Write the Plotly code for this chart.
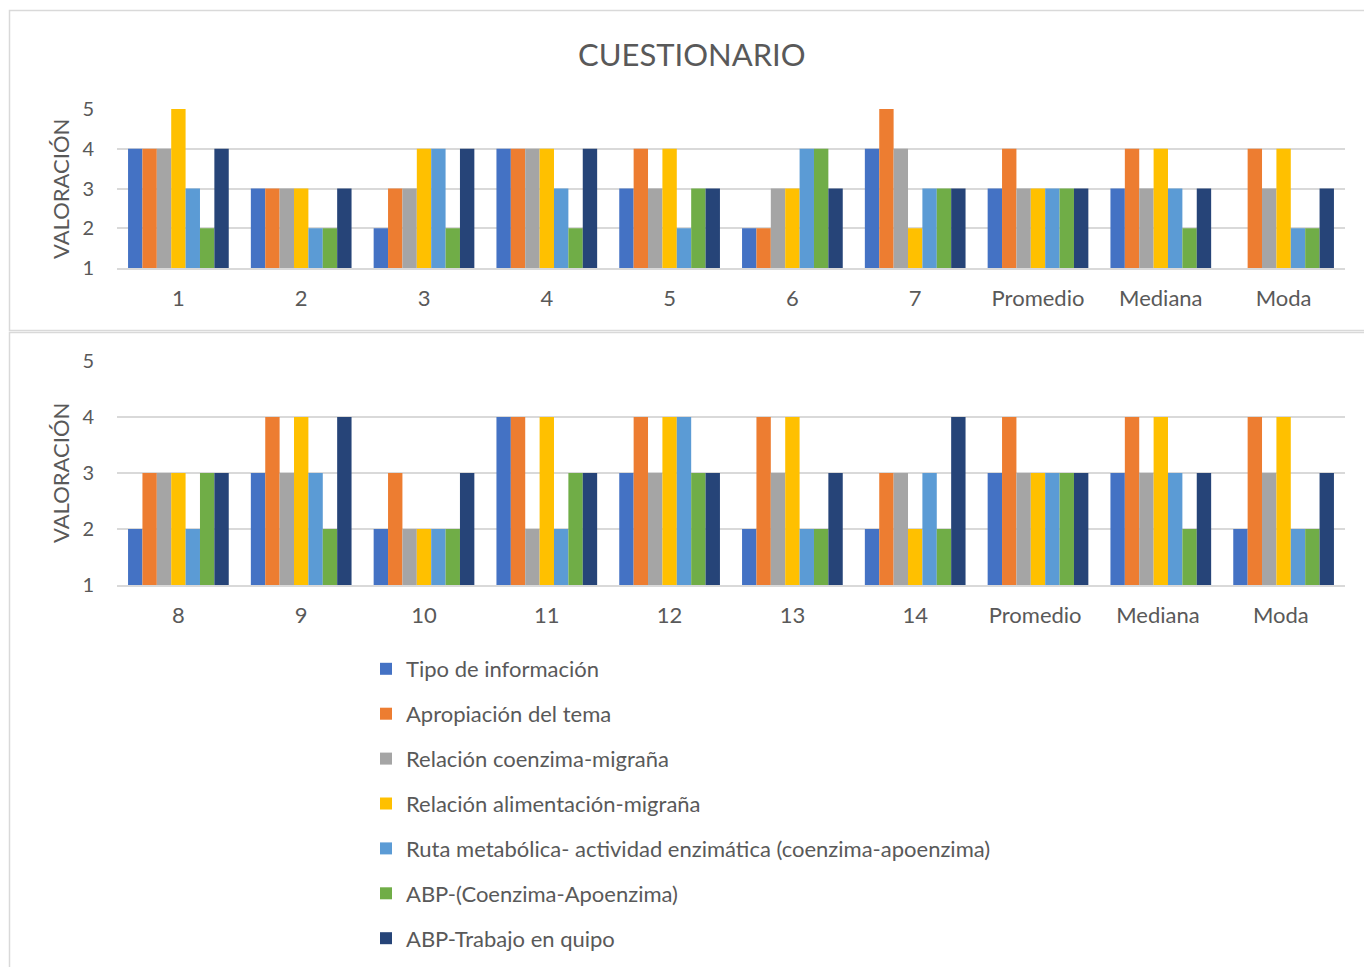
import plotly.graph_objects as go

W, H = 1364, 967

series_names = [
    "Tipo de información",
    "Apropiación del tema",
    "Relación coenzima-migraña",
    "Relación alimentación-migraña",
    "Ruta metabólica- actividad enzimática (coenzima-apoenzima)",
    "ABP-(Coenzima-Apoenzima)",
    "ABP-Trabajo en quipo",
]
colors = ["#4472C4", "#ED7D31", "#A5A5A5", "#FFC000", "#5B9BD5", "#70AD47", "#264478"]

cats_top = ["1", "2", "3", "4", "5", "6", "7", "Promedio", "Mediana", "Moda"]
cats_bot = ["8", "9", "10", "11", "12", "13", "14", "Promedio ", "Mediana ", "Moda "]

# values per series (top panel)
tipo_top = [4, 3, 2, 4, 3, 2, 4, 3, 3, None]
apro_top = [4, 3, 3, 4, 4, 2, 5, 4, 4, 4]
coen_top = [4, 3, 3, 4, 3, 3, 4, 3, 3, 3]
alim_top = [5, 3, 4, 4, 4, 3, 2, 3, 4, 4]
ruta_top = [3, 2, 4, 3, 2, 4, 3, 3, 3, 2]
abpc_top = [2, 2, 2, 2, 3, 4, 3, 3, 2, 2]
abpt_top = [4, 3, 4, 4, 3, 3, 3, 3, 3, 3]

# values per series (bottom panel)
tipo_bot = [2, 3, 2, 4, 3, 2, 2, 3, 3, 2]
apro_bot = [3, 4, 3, 4, 4, 4, 3, 4, 4, 4]
coen_bot = [3, 3, 2, 2, 3, 3, 3, 3, 3, 3]
alim_bot = [3, 4, 2, 4, 4, 4, 2, 3, 4, 4]
ruta_bot = [2, 3, 2, 2, 4, 2, 3, 3, 3, 2]
abpc_bot = [3, 2, 2, 3, 3, 2, 2, 3, 2, 2]
abpt_bot = [3, 4, 3, 3, 3, 3, 4, 3, 3, 3]

top_vals = [tipo_top, apro_top, coen_top, alim_top, ruta_top, abpc_top, abpt_top]
bot_vals = [tipo_bot, apro_bot, coen_bot, alim_bot, ruta_bot, abpc_bot, abpt_bot]

y_ticks = [1, 2, 3, 4, 5]

FONT = "Lato"
TXT = "#595959"

fig = go.Figure()
for i, name in enumerate(series_names):
    fig.add_trace(go.Bar(
        x=cats_top, y=top_vals[i], name=name, marker_color=colors[i],
        marker_line_width=0, xaxis="x", yaxis="y",
        legendgroup=f"g{i}", showlegend=True,
    ))
for i, name in enumerate(series_names):
    fig.add_trace(go.Bar(
        x=cats_bot, y=bot_vals[i], name=name, marker_color=colors[i],
        marker_line_width=0, xaxis="x2", yaxis="y2",
        legendgroup=f"g{i}", showlegend=False,
    ))

def px_x(p):
    return p / W

def px_y(p):
    return 1 - p / H

xdom = [px_x(117), px_x(1345)]
common_x = dict(
    showgrid=False, showline=True, linecolor="#D9D9D9", linewidth=1.5,
    tickfont=dict(family=FONT, size=22, color=TXT), ticks="",
    ticklabelstandoff=10, fixedrange=True, automargin=False,
)
common_y = dict(
    range=[1, 5], tickvals=y_ticks, showgrid=True, gridcolor="#D9D9D9",
    gridwidth=1.5, zeroline=False, showline=False, ticks="",
    tickfont=dict(family=FONT, size=20, color=TXT), ticklabelstandoff=22,
    fixedrange=True, automargin=False,
)

fig.update_layout(
    width=W, height=H,
    margin=dict(l=0, r=0, t=0, b=0),
    paper_bgcolor="white", plot_bgcolor="white",
    barmode="group", bargap=0.18, bargroupgap=0,
    xaxis=dict(domain=xdom, anchor="y", **common_x),
    yaxis=dict(domain=[px_y(268), px_y(109)], anchor="x", **common_y),
    xaxis2=dict(domain=xdom, anchor="y2", **common_x),
    yaxis2=dict(domain=[px_y(585), px_y(361)], anchor="x2", **common_y),
    legend=dict(
        x=px_x(366), y=px_y(648), xanchor="left", yanchor="top",
        orientation="v", font=dict(family=FONT, size=22, color=TXT),
        tracegroupgap=13.3, itemwidth=30, bgcolor="rgba(0,0,0,0)",
    ),
    showlegend=True,
    annotations=[
        dict(text="CUESTIONARIO", x=px_x(692), y=px_y(54), xref="paper", yref="paper",
             showarrow=False, font=dict(family=FONT, size=31, color=TXT),
             xanchor="center", yanchor="middle"),
        dict(text="VALORACIÓN", x=px_x(60), y=px_y(189), xref="paper", yref="paper",
             showarrow=False, textangle=-90, font=dict(family=FONT, size=22, color=TXT),
             xanchor="center", yanchor="middle"),
        dict(text="VALORACIÓN", x=px_x(60), y=px_y(473), xref="paper", yref="paper",
             showarrow=False, textangle=-90, font=dict(family=FONT, size=22, color=TXT),
             xanchor="center", yanchor="middle"),
    ],
    shapes=[
        dict(type="rect", xref="paper", yref="paper",
             x0=px_x(9.5), x1=px_x(1380), y0=px_y(330.5), y1=px_y(10.5),
             line=dict(color="#D9D9D9", width=1.5)),
        dict(type="rect", xref="paper", yref="paper",
             x0=px_x(9.5), x1=px_x(1380), y0=px_y(985), y1=px_y(332.5),
             line=dict(color="#D9D9D9", width=1.5)),
    ],
)

fig.write_html("out.html")
